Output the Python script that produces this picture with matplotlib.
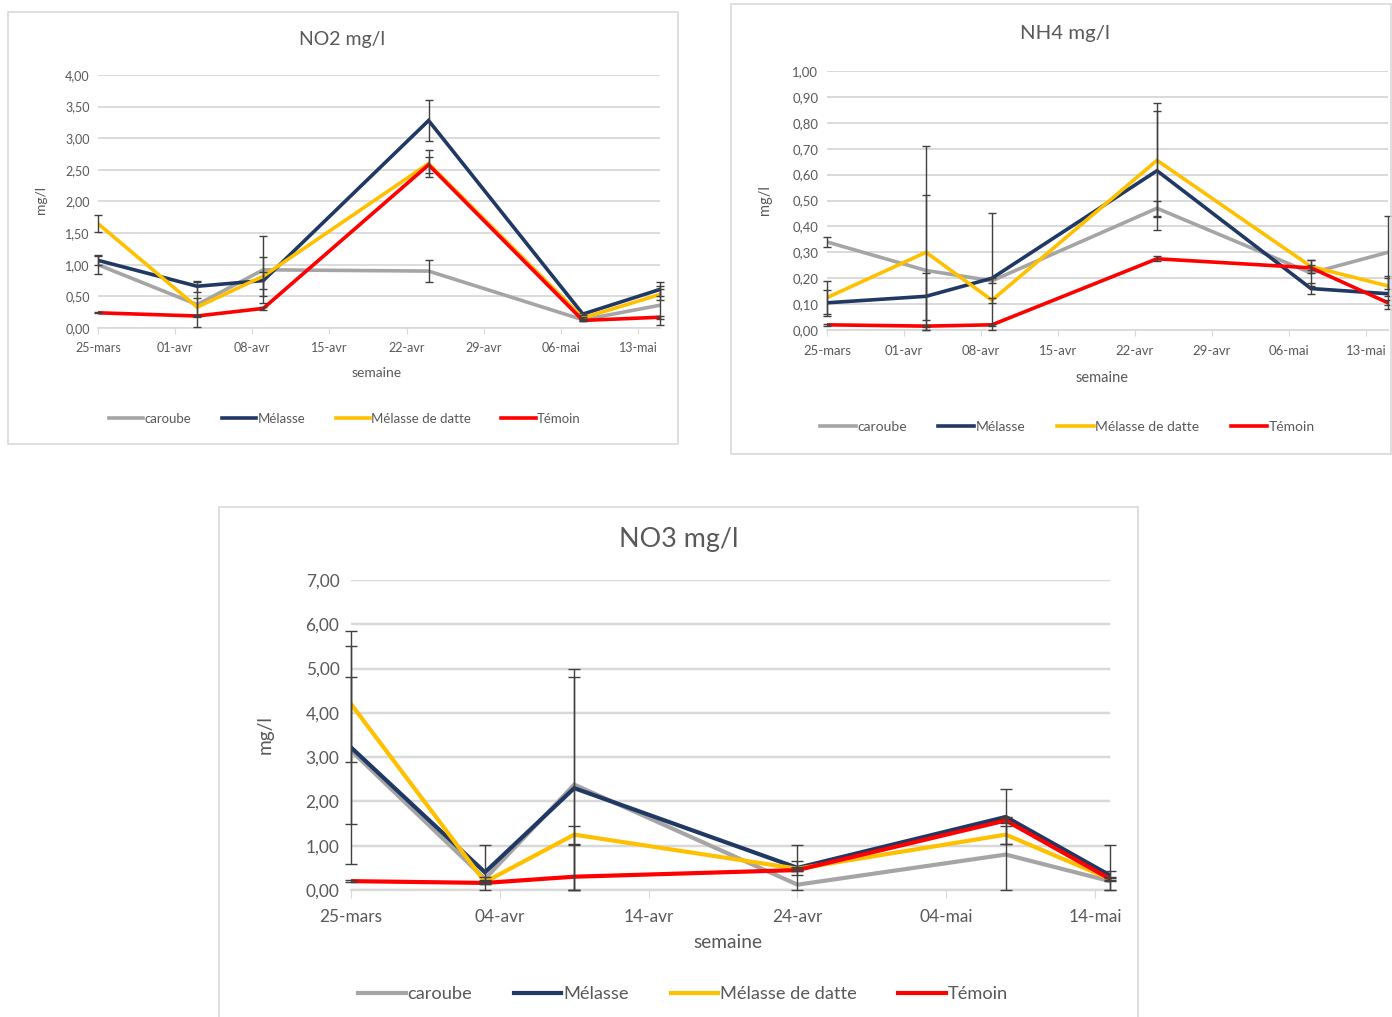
import numpy as np
import pandas as pd
import matplotlib
matplotlib.use("Agg")
import matplotlib.pyplot as plt
from matplotlib.patches import Rectangle
from matplotlib.lines import Line2D
from matplotlib.ticker import FuncFormatter

plt.rcParams['font.family'] = ['Lato', 'DejaVu Sans']

# ----------------------------
# Data
# ----------------------------
series = ["caroube", "Mélasse", "Mélasse de datte", "Témoin"]
colors = ["#A5A5A5", "#203864", "#FFC000", "#FF0000"]

dates = pd.to_datetime(["2021-03-25", "2021-04-03", "2021-04-09",
                        "2021-04-24", "2021-05-08", "2021-05-15"])

no2_caroube = [1.00, 0.37, 0.92, 0.90, 0.13, 0.36]
no2_melasse = [1.07, 0.66, 0.75, 3.28, 0.22, 0.61]
no2_datte = [1.65, 0.33, 0.82, 2.60, 0.16, 0.53]
no2_temoin = [0.24, 0.19, 0.31, 2.58, 0.12, 0.17]
no2_err_caroube = [0.14, 0.35, 0.53, 0.17, 0.02, 0.31]
no2_err_melasse = [0.08, 0.09, 0.13, 0.32, 0.02, 0.11]
no2_err_datte = [0.13, 0.14, 0.31, 0.21, 0.02, 0.09]
no2_err_temoin = [0.01, 0.02, 0.02, 0.13, 0.01, 0.02]

nh4_caroube = [0.34, 0.23, 0.19, 0.47, 0.22, 0.30]
nh4_melasse = [0.105, 0.13, 0.20, 0.615, 0.16, 0.14]
nh4_datte = [0.125, 0.30, 0.115, 0.655, 0.245, 0.17]
nh4_temoin = [0.02, 0.015, 0.02, 0.275, 0.24, 0.105]
nh4_err_caroube = [0.02, 0.29, 0.01, 0.03, 0.05, 0.14]
nh4_err_melasse = [0.05, 0.09, 0.25, 0.23, 0.02, 0.06]
nh4_err_datte = [0.065, 0.41, 0.01, 0.22, 0.025, 0.04]
nh4_err_temoin = [0.005, 0.005, 0.005, 0.01, 0.01, 0.01]

no3_caroube = [3.15, 0.25, 2.38, 0.12, 0.80, 0.20]
no3_melasse = [3.22, 0.40, 2.30, 0.50, 1.65, 0.33]
no3_datte = [4.20, 0.18, 1.25, 0.48, 1.25, 0.25]
no3_temoin = [0.20, 0.16, 0.30, 0.45, 1.57, 0.25]
no3_err_caroube = [1.67, 0.05, 2.44, 0.90, 0.85, 0.24]
no3_err_melasse = [2.63, 0.62, 2.69, 0.15, 0.62, 0.69]
no3_err_datte = [1.30, 0.05, 0.20, 0.05, 0.20, 0.05]
no3_err_temoin = [0.02, 0.02, 0.72, 0.02, 0.05, 0.02]

no2_ticks = pd.date_range("2021-03-25", periods=8, freq="7D")
no3_ticks = pd.date_range("2021-03-25", periods=6, freq="10D")
mois = {3: "mars", 4: "avr", 5: "mai"}

W, H = 1392, 1017
fig = plt.figure(figsize=(W / 100, H / 100), dpi=100)
TXT = "#595959"


def px_rect(x0, y0, x1, y1):
    return [x0 / W, 1 - y1 / H, (x1 - x0) / W, (y1 - y0) / H]


def panel_box(x0, y0, x1, y1):
    fig.patches.append(Rectangle((x0 / W, 1 - y1 / H), (x1 - x0) / W, (y1 - y0) / H,
                                 transform=fig.transFigure, fill=False,
                                 edgecolor="#D9D9D9", linewidth=1.2))


def draw_panel(rect, values, errors, ymax, ystep, ticks, title, title_xy,
               sem_xy, ylab_xy, leg_y, leg_x, scale, lw):
    ax = fig.add_axes(px_rect(*rect))
    for vals, err, c in zip(values, errors, colors):
        ax.plot(dates, vals, color=c, linewidth=lw, solid_joinstyle="miter", zorder=3)
    for vals, err, c in zip(values, errors, colors):
        # error bars stop at the 0 line like in the excel chart
        lower = np.minimum(err, vals)
        ax.errorbar(dates, vals, yerr=[lower, err], fmt="none", ecolor="#404040",
                    elinewidth=1.0, capsize=3 * scale, capthick=1.0, zorder=4,
                    clip_on=False)
    ax.set_xlim(dates[0], dates[-1])
    ax.set_ylim(0, ymax)
    ax.set_yticks(np.arange(0, ymax + ystep / 2, ystep))
    ax.yaxis.set_major_formatter(FuncFormatter(lambda v, p: f"{v:.2f}".replace(".", ",")))
    ax.set_xticks(ticks)
    ax.set_xticklabels([f"{d.day:02d}-{mois[d.month]}" for d in ticks])
    ax.grid(axis="y", color="#D9D9D9", linewidth=1.3 * scale)
    ax.set_axisbelow(True)
    for s in ["top", "right", "left"]:
        ax.spines[s].set_visible(False)
    ax.spines["bottom"].set_color("#D9D9D9")
    ax.spines["bottom"].set_linewidth(1.2 * scale)
    ax.tick_params(axis="y", length=0, labelsize=9 * scale, labelcolor=TXT, pad=6 * scale)
    ax.tick_params(axis="x", length=4 * scale, color="#D9D9D9", labelsize=9 * scale,
                   labelcolor=TXT, pad=6 * scale)
    ax.set_facecolor("none")
    fig.text(title_xy[0] / W, 1 - title_xy[1] / H, title, fontsize=14 * scale,
             color=TXT, ha="center", va="center")
    fig.text(sem_xy[0] / W, 1 - sem_xy[1] / H, "semaine", fontsize=10 * scale,
             color=TXT, ha="center", va="center")
    fig.text(ylab_xy[0] / W, 1 - ylab_xy[1] / H, "mg/l", fontsize=10 * scale,
             color=TXT, ha="center", va="center", rotation=90)
    handles = [Line2D([], [], color=c, linewidth=lw) for c in colors]
    fig.legend(handles, series, loc="center", bbox_to_anchor=(leg_x / W, 1 - leg_y / H),
               ncol=4, frameon=False, fontsize=9.5 * scale, labelcolor=TXT,
               handlelength=2.6, handletextpad=0.1, columnspacing=2.3)
    return ax


panel_box(8, 12, 678, 444)
draw_panel((98, 75, 660, 328),
           [no2_caroube, no2_melasse, no2_datte, no2_temoin],
           [no2_err_caroube, no2_err_melasse, no2_err_datte, no2_err_temoin],
           4.0, 0.5, no2_ticks, "NO2 mg/l", (342, 40), (377, 373), (41, 200),
           419, 345, 1.0, 2.6)

panel_box(731, 4, 1391, 454)
draw_panel((827, 71, 1388, 330),
           [nh4_caroube, nh4_melasse, nh4_datte, nh4_temoin],
           [nh4_err_caroube, nh4_err_melasse, nh4_err_datte, nh4_err_temoin],
           1.0, 0.1, no2_ticks, "NH4 mg/l", (1065, 34), (1102, 378), (765, 200),
           427, 1067, 1.05, 2.6)

panel_box(219, 507, 1138, 1030)
draw_panel((351, 580, 1110, 890),
           [no3_caroube, no3_melasse, no3_datte, no3_temoin],
           [no3_err_caroube, no3_err_melasse, no3_err_datte, no3_err_temoin],
           7.0, 1.0, no3_ticks, "NO3 mg/l", (679, 540), (728, 942), (265, 735),
           994, 683, 1.38, 3.0)

fig.savefig("out.png", dpi=100)
